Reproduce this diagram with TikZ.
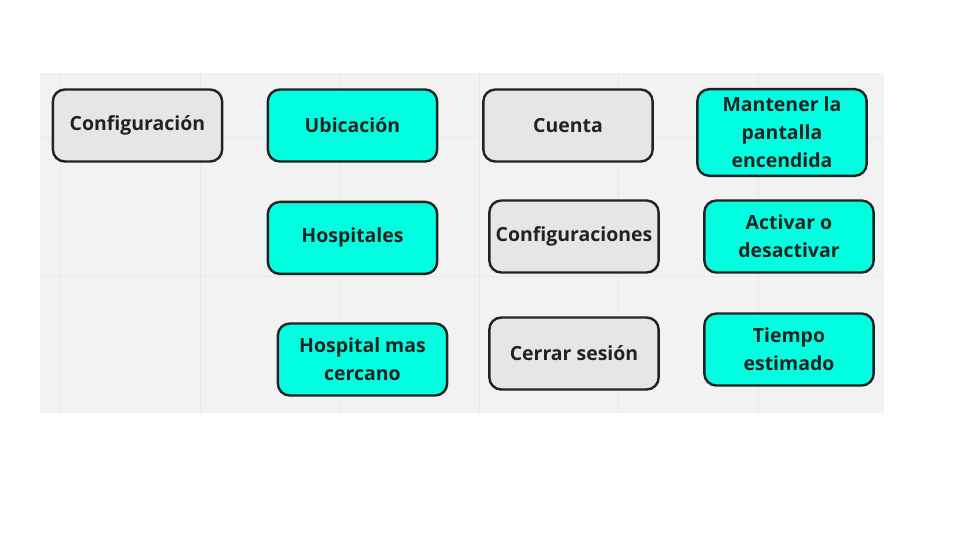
\documentclass[tikz,border=0pt]{standalone}
\usepackage{fontspec}
\setmainfont{Open Sans}
\usetikzlibrary{positioning}
\definecolor{panel}{RGB}{242,242,242}
\definecolor{gridline}{RGB}{232,232,232}
\definecolor{aqua}{RGB}{0,255,224}
\definecolor{greybox}{RGB}{230,230,230}
\definecolor{ink}{RGB}{34,34,34}

\begin{document}
\begin{tikzpicture}[x=0.75pt,y=-0.75pt,node distance=28.5pt and 33pt,
 opt/.style={draw=ink,line width=1.8pt,rounded corners=9pt,align=center,text=ink,
  font=\bfseries\fontsize{14.6}{21}\selectfont,minimum width=127pt,minimum height=54pt,inner sep=1pt},
 greyopt/.style={opt,fill=greybox},
 aquaopt/.style={opt,fill=aqua}]
% page and board
\useasboundingbox[fill=white] (0,0) rectangle (960,540);
\fill[panel] (40,73) rectangle (884,413);
\foreach \gx in {60,200,340,479,618,758}
 \draw[gridline,line width=0.75pt] (\gx,73) -- (\gx,413);
\foreach \gy in {137,276}
 \draw[gridline,line width=0.75pt] (40,\gy) -- (884,\gy);
% first row
\node[greyopt] (config) at (137.5,125.5) {Configuración};
\node[aquaopt] (ubicacion) at (352.5,125.5) {Ubicación};
\node[greyopt] (cuenta) at (568,125.5) {Cuenta};
\node[aquaopt,minimum height=65pt] (pantalla) at (782,132.5) {Mantener la\\pantalla\\encendida};
% second row
\node[aquaopt,below=of ubicacion] (hospitales) {Hospitales};
\node[greyopt] (configs) at (574,236.5) {Configuraciones};
\node[aquaopt] (activar) at (789,236.5) {Activar o\\desactivar};
% third row
\node[aquaopt] (cercano) at (362.5,359.5) {Hospital mas\\cercano};
\node[greyopt] (sesion) at (574,353.5) {Cerrar sesión};
\node[aquaopt] (tiempo) at (789,349.5) {Tiempo\\estimado};
\end{tikzpicture}
\end{document}
